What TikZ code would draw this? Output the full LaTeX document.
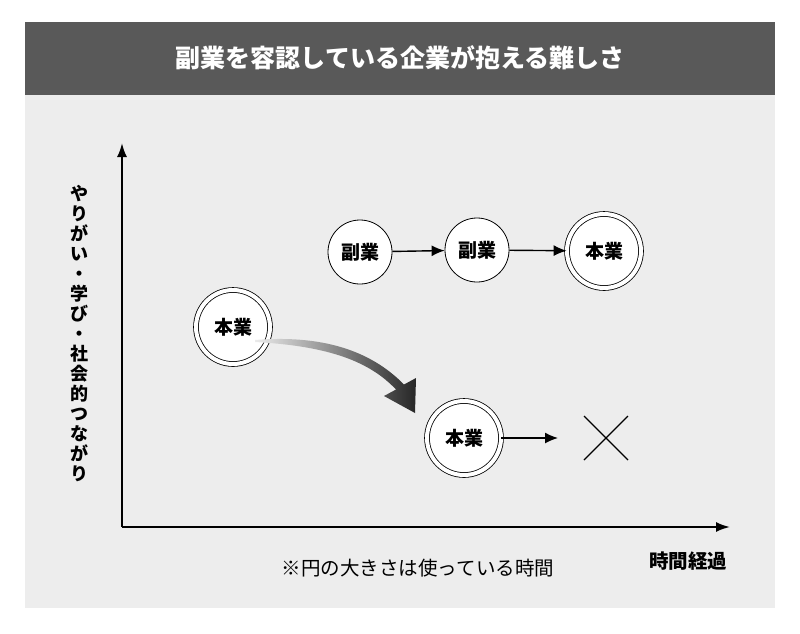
\documentclass[tikz,border=0pt]{standalone}
\usepackage{fontspec}
\setmainfont{Noto Sans CJK JP}
\usetikzlibrary{arrows.meta}
\begin{document}
\begin{tikzpicture}[x=1pt,y=-1pt,
  circ/.style={circle,draw=black,line width=0.8pt,fill=white,minimum size=64pt,inner sep=0pt,font=\bfseries\fontsize{19}{19}\selectfont},
  dcirc/.style={circ,double=white,double distance=4pt,minimum size=74pt},
  arr/.style={-{Latex[length=13pt,width=11pt]},line width=1.4pt}]
\useasboundingbox (0,0) rectangle (800,633);
\fill[white] (0,0) rectangle (800,633);
\fill[black!7] (25,22) rectangle (775,608);
\fill[black!65] (25,22) rectangle (775,95);
\node[text=white,font=\bfseries\fontsize{25}{25}\selectfont] (title) at (400,58) {副業を容認している企業が抱える難しさ};
\coordinate (o) at (122,527);
\coordinate (yt) at (122,143);
\coordinate (xt) at (730,527);
\draw[-{Latex[length=14pt,width=10pt]},line width=2pt] (o) -- (yt);
\draw[-{Latex[length=14pt,width=10pt]},line width=2pt] (o) -- (xt);
\node[font=\bfseries\fontsize{18}{20}\selectfont,align=center,inner sep=0pt] (ylab) at (79,334) {や\\り\\が\\い\\・\\学\\び\\・\\社\\会\\的\\つ\\な\\が\\り};
\node[font=\fontsize{19.5}{20}\selectfont] (note) at (418,568) {※円の大きさは使っている時間};
\node[font=\bfseries\fontsize{19.5}{20}\selectfont] (xlab) at (688,561) {時間経過};
\node[circ] (a) at (360,252) {副業};
\node[circ] (b) at (477,250) {副業};
\node[dcirc] (c) at (604,251) {本業};
\node[dcirc] (d) at (233,327) {本業};
\node[dcirc] (e) at (464,438) {本業};
\draw[arr] (a) -- (b);
\draw[arr] (b) -- (c);
\coordinate (xend) at (558,438);
\draw[arr] (e) -- (xend);
\coordinate (x1) at (584,416); \coordinate (x2) at (628,460);
\coordinate (x3) at (628,416); \coordinate (x4) at (584,460);
\draw[line width=1.3pt] (x1) -- (x2) (x3) -- (x4);
\shade[left color=black!8,right color=black!85]
 (255,340) .. controls (330,334) and (375,355) .. (404,384.5)
 -- (416,378) -- (415,413) -- (384,396) -- (396,389.5)
 .. controls (370,362) and (330,346) .. (255,342) -- cycle;
\end{tikzpicture}
\end{document}
